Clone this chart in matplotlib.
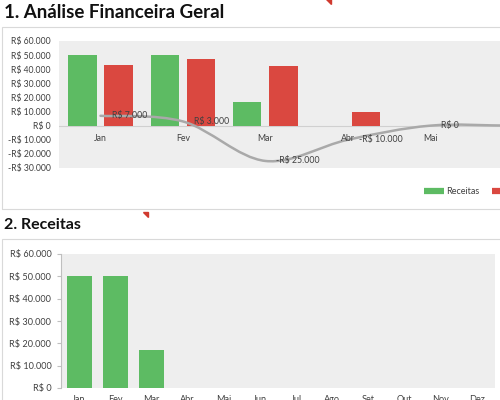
import numpy as np
import matplotlib.pyplot as plt
from matplotlib.path import Path
from matplotlib.patches import PathPatch, Rectangle, Polygon
from matplotlib.lines import Line2D
from matplotlib.ticker import FuncFormatter

plt.rcParams.update({
    "font.family": ["Lato", "DejaVu Sans"],
    "font.size": 6.5,
})

meses = ["Jan", "Fev", "Mar", "Abr", "Mai", "Jun", "Jul", "Ago", "Set", "Out", "Nov", "Dez"]
receitas = [50000, 50000, 17000, 0, 0, 0, 0, 0, 0, 0, 0, 0]
despesas = [43000, 47000, 42000, 10000, 0, 0, 0, 0, 0, 0, 0, 0]
saldo = [7000, 3000, -25000, -10000, 0, 0, 0, 0, 0, 0, 0, 0]

VERDE = "#5DBB63"
VERMELHO = "#DA4840"
CINZA_FUNDO = "#EEEEEE"
CINZA_LINHA = "#A9A9A9"
TEXTO = "#404040"

W, H = 500, 400


def fx(px):
    return px / W


def fy(py):
    return 1 - py / H


def reais(v, pos=None):
    s = f"{abs(v):,.0f}".replace(",", ".")
    return ("-R$ " if v < 0 else "R$ ") + s


def suave(xs, ys):
    """Curva suavizada (Catmull-Rom em Bezier) pelos pontos."""
    pts = np.column_stack([xs, ys]).astype(float)
    ext = np.vstack([pts[0], pts, pts[-1]])
    verts = [pts[0]]
    codes = [Path.MOVETO]
    for i in range(1, len(ext) - 2):
        p0, p1, p2, p3 = ext[i - 1], ext[i], ext[i + 1], ext[i + 2]
        verts += [p1 + (p2 - p0) / 6, p2 - (p3 - p1) / 6, p2]
        codes += [Path.CURVE4] * 3
    return Path(verts, codes)


fig = plt.figure(figsize=(5, 4), dpi=100)

# ── molduras e títulos ──
fig.patches.append(Rectangle((fx(2), fy(209)), 1.2, fy(27) - fy(209), transform=fig.transFigure,
                             fill=False, edgecolor="#D9D9D9", lw=0.8))
fig.patches.append(Rectangle((fx(2), fy(420)), 1.2, fy(239) - fy(420), transform=fig.transFigure,
                             fill=False, edgecolor="#D9D9D9", lw=0.8))
fig.text(fx(4), fy(13), "1. Análise Financeira Geral", fontsize=13.5, fontweight="bold",
         va="center", ha="left", color="#111111")
fig.text(fx(4), fy(225), "2. Receitas", fontsize=11.5, fontweight="bold",
         va="center", ha="left", color="#111111")
# marcadores vermelhos de comentário
for (cx, cy) in [(328, 1), (145, 214)]:
    fig.patches.append(Polygon([(fx(cx - 2), fy(cy - 2)), (fx(cx + 3), fy(cy - 2)), (fx(cx + 3), fy(cy + 3))],
                               closed=True, transform=fig.transFigure, color="#D03A2F"))

# ── 1. Análise Financeira Geral ──
cat_w = 82.4
left1 = 59.3
ax1 = fig.add_axes([fx(left1), fy(168), 12 * cat_w / W, (168 - 41) / H])
ax1.set_facecolor(CINZA_FUNDO)
x = np.arange(len(meses))
ax1.bar(x - 0.22, receitas, width=0.345, color=VERDE, zorder=2)
ax1.bar(x + 0.22, despesas, width=0.345, color=VERMELHO, zorder=2)
ax1.axhline(0, color="#D0D0D0", lw=0.8, zorder=1)
ax1.add_patch(PathPatch(suave(x, saldo), fill=False, edgecolor=CINZA_LINHA, lw=1.8, zorder=3,
                        capstyle="round"))
# só os rótulos que caem dentro da imagem (o gráfico continua além da borda)
visivel = [i for i in x if left1 + (i + 0.5) * cat_w < W - 20]
for i in visivel:
    ax1.annotate(reais(saldo[i]), (i, saldo[i]), xytext=(8, 0), textcoords="offset points",
                 ha="left", va="center", fontsize=6.3, color=TEXTO, zorder=4)
    ax1.annotate(meses[i], (i, 0), xytext=(0, -9), textcoords="offset points",
                 ha="center", va="center", fontsize=6.3, color=TEXTO)
ax1.set_xlim(-0.5, 11.5)
ax1.set_ylim(-30000, 60000)
ax1.set_yticks(range(-30000, 60001, 10000))
ax1.yaxis.set_major_formatter(FuncFormatter(reais))
ax1.tick_params(axis="y", length=0, pad=6, labelsize=6.2, labelcolor=TEXTO)
ax1.set_xticks([])
for s in ax1.spines.values():
    s.set_visible(False)

handles = [Line2D([], [], color=VERDE, lw=4.5, solid_capstyle="butt"),
           Line2D([], [], color=VERMELHO, lw=4.5, solid_capstyle="butt"),
           Line2D([], [], color=CINZA_LINHA, lw=1.8)]
fig.legend(handles, ["Receitas", "Despesas", "Saldo"], loc="center left",
           bbox_to_anchor=(fx(424), fy(192)), ncol=3, frameon=False, borderpad=0,
           borderaxespad=0, handlelength=2.2, handletextpad=0.25, columnspacing=1.4,
           fontsize=6.5, labelcolor=TEXTO)

# ── 2. Receitas ──
ax2 = fig.add_axes([fx(61), fy(388), (495 - 61) / W, (388 - 254) / H])
ax2.set_facecolor(CINZA_FUNDO)
ax2.bar(x, receitas, width=0.69, color=VERDE, zorder=2)
ax2.set_xlim(-0.5, 11.5)
ax2.set_ylim(0, 60000)
ax2.set_yticks(range(0, 60001, 10000))
ax2.yaxis.set_major_formatter(FuncFormatter(reais))
ax2.set_xticks(x)
ax2.set_xticklabels(meses)
ax2.tick_params(axis="y", length=3, width=0.8, color="#BFBFBF", pad=4, labelsize=6.6, labelcolor=TEXTO)
ax2.tick_params(axis="x", length=0, pad=5, labelsize=6.6, labelcolor=TEXTO)
for s in ["top", "right", "bottom"]:
    ax2.spines[s].set_visible(False)
ax2.spines["left"].set_color("#BFBFBF")
ax2.spines["left"].set_linewidth(0.8)

fig.savefig("out.png", dpi=100)
